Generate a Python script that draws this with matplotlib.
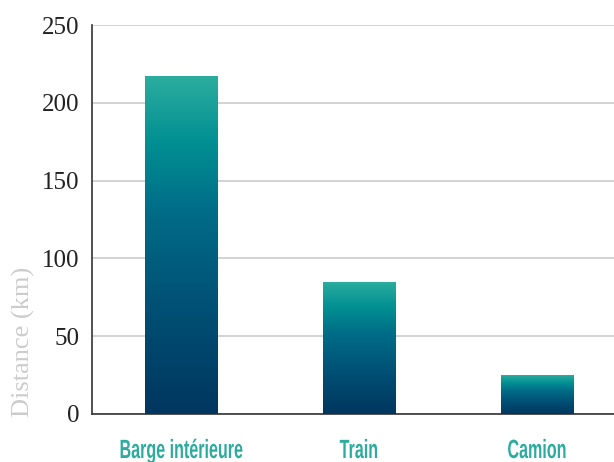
import numpy as np
import matplotlib.pyplot as plt
from matplotlib.colors import LinearSegmentedColormap
from matplotlib.patches import Rectangle
from matplotlib.patheffects import AbstractPathEffect
from matplotlib.transforms import Affine2D

categories = ["Barge intérieure", "Train", "Camion"]
distances = [217, 85, 25]
y_ticks = [0, 50, 100, 150, 200, 250]

cmap = LinearSegmentedColormap.from_list(
    "bar_grad", [(0.0, "#00365f"), (0.35, "#005377"), (0.6, "#006c88"),
                 (0.8, "#008f92"), (1.0, "#2cad9f")])


# squeeze glyphs horizontally to mimic a condensed typeface
class Squeeze(AbstractPathEffect):
    def __init__(self, sx):
        super().__init__()
        self.sx = sx

    def draw_path(self, renderer, gc, tpath, affine, rgbFace=None):
        ext = tpath.get_extents()
        cx = (ext.x0 + ext.x1) / 2
        t = Affine2D().translate(-cx, 0).scale(self.sx, 1).translate(cx, 0) + affine
        renderer.draw_path(gc, tpath, t, rgbFace)


fig = plt.figure(figsize=(6.14, 4.62), dpi=100)
ax = fig.add_axes([92 / 614, 48 / 462, 534 / 614, 389 / 462])

x = np.arange(len(categories))
width = 0.405
bars = ax.bar(x, distances, width=width, color="none", zorder=3)

# vertical gradient inside each bar
grad = np.linspace(0, 1, 256).reshape(-1, 1)
for b in bars:
    x0, y0 = b.get_x(), b.get_y()
    w, h = b.get_width(), b.get_height()
    im = ax.imshow(grad, cmap=cmap, origin="lower", aspect="auto",
                   extent=[x0, x0 + w, y0, y0 + h], zorder=3)
    im.set_clip_path(Rectangle((x0, y0), w, h, transform=ax.transData))

ax.set_xlim(-0.5, 2.5)
ax.set_ylim(0, 250)
ax.set_yticks(y_ticks)
ax.set_yticklabels([str(t) for t in y_ticks], family="Liberation Serif",
                   fontsize=18, color="#222222")
ax.set_xticks(x)
ax.set_xticklabels(categories, family="Liberation Sans", fontsize=19,
                   fontweight="bold", color="#2cab9f")
for lab in ax.get_xticklabels():
    lab.set_path_effects([Squeeze(0.61)])
ax.tick_params(axis="y", length=0, pad=9)
ax.tick_params(axis="x", length=0, pad=18)

ax.grid(axis="y", color="#d3d3d3", linewidth=1.4, zorder=0)
for s in ["top", "right"]:
    ax.spines[s].set_visible(False)
ax.spines["left"].set_color("#333333")
ax.spines["bottom"].set_color("#333333")
ax.spines["left"].set_linewidth(1.2)
ax.spines["bottom"].set_linewidth(1.2)

ax.set_ylabel("Distance (km)", family="Liberation Serif", fontsize=19,
              color="#cccccc")
ax.yaxis.set_label_coords(-0.106, 0.185)

fig.savefig("out.png", dpi=100)
